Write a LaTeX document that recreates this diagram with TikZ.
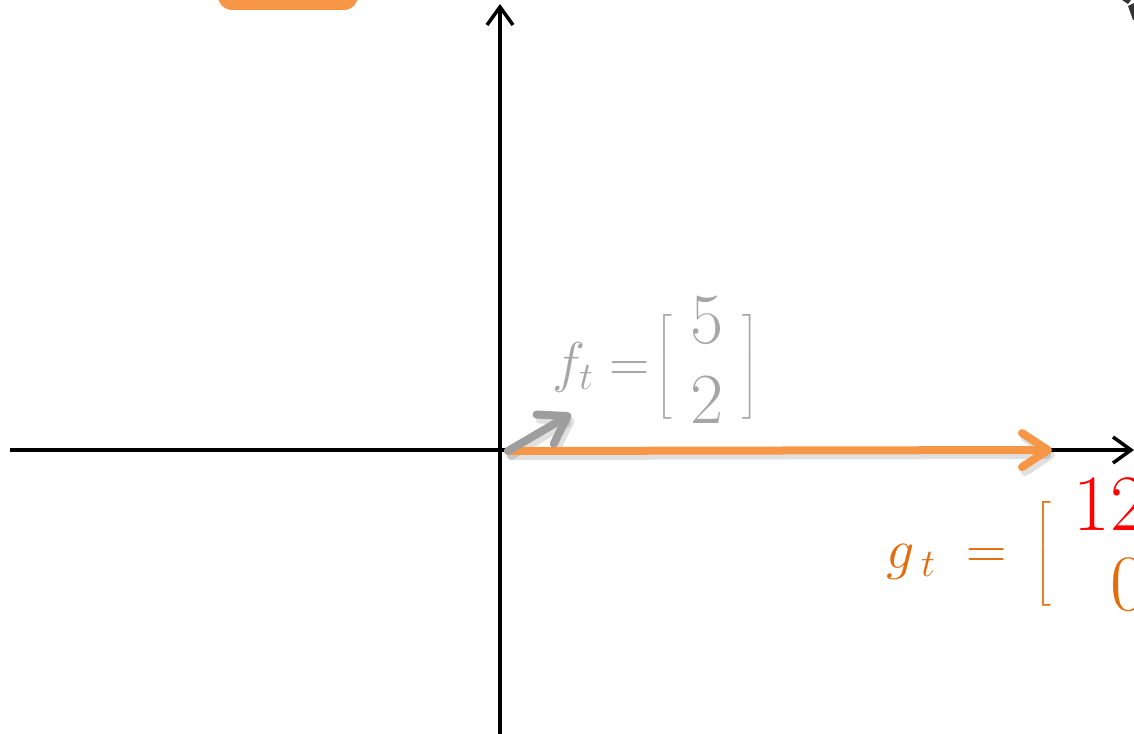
\RequirePackage{fix-cm}
\documentclass[tikz,border=0pt]{standalone}
\usepackage{amsmath}
\usepackage{exscale}
\usetikzlibrary{arrows.meta}
\definecolor{boxorange}{HTML}{F79646}
\definecolor{vecorange}{HTML}{F79646}
\definecolor{txtorange}{HTML}{E46C0A}
\definecolor{vecgray}{HTML}{9E9E9E}
\definecolor{txtgray}{HTML}{A6A6A6}
\definecolor{corner}{HTML}{333333}
\newcommand{\bigdig}[2]{\text{\fontsize{#1}{80}\selectfont #2}}
\begin{document}
\begin{tikzpicture}[x=1pt,y=-1pt,
  axis/.style={line width=3.5pt,black,-{Straight Barb[length=18pt,width=26pt]}},
  vecline/.style={line width=8pt,line cap=round,-{Straight Barb[length=26pt,width=34pt,line cap=round,line join=round]}},
  vecshadow/.style={vecline,draw=black,opacity=0.12},
  lab/.style={inner sep=0pt,anchor=base west,font=\fontsize{56}{80}\selectfont}]
\useasboundingbox (0,0) rectangle (1134,733);
\clip (0,0) rectangle (1134,733);
% partial orange box at top
\path[fill=boxorange,rounded corners=14pt] (218,-30) rectangle (358,10);
% partial dark shape at top right
\path[fill=corner] (1122,0) -- (1131,0) -- (1128,4) -- cycle;
\path[fill=corner] (1128,6) -- (1136,2) -- (1136,20) -- (1133,20) -- cycle;
% axes
\coordinate (xs) at (10,450);
\coordinate (xe) at (1134,450);
\coordinate (ys) at (500,740);
\coordinate (ye) at (500,4);
\draw[axis] (xs) -- (xe);
\draw[axis] (ys) -- (ye);
% vectors
\coordinate (o) at (508,451);
\coordinate (os) at (511,456);
\coordinate (fe) at (571,414);
\coordinate (fes) at (574,419);
\coordinate (ge) at (1052,450);
\coordinate (ges) at (1055,455);
\draw[vecshadow] (os) -- (ges);
\draw[vecshadow] (os) -- (fes);
\draw[vecline,draw=vecorange] (o) -- (ge);
\draw[vecline,draw=vecgray] (o) -- (fe);
% labels
\node[lab,text=txtgray] (flab) at (552,381)
  {$f_t\mkern5mu{=}\mkern2mu\Bigl[\mkern6mu\begin{matrix}\bigdig{72}{5}\\\bigdig{72}{2}\end{matrix}\mkern6mu\Bigr]$};
\node[lab,text=txtorange] (glab) at (886,568)
  {$g_{\mkern4mu t}\mkern10mu{=}\mkern9mu\Bigl[\mkern7mu\begin{array}{@{}r@{}}\textcolor{red}{\bigdig{80}{12}}\\\bigdig{80}{0}\end{array}\mkern6mu\Bigr]$};
\end{tikzpicture}
\end{document}
